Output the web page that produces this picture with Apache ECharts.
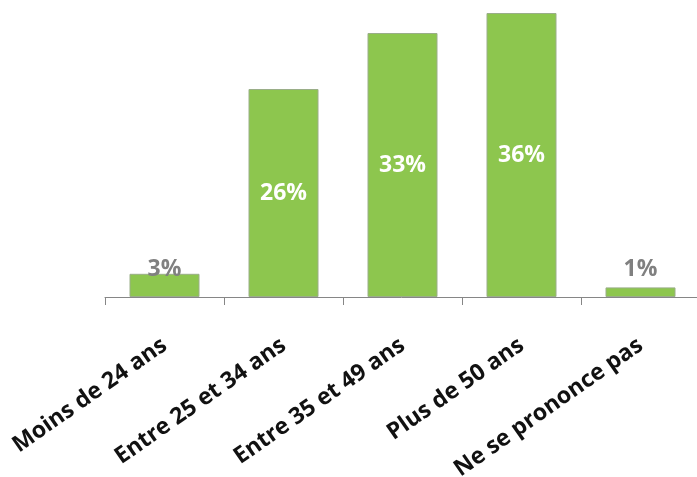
<!DOCTYPE html>
<html>
<head>
<meta charset="utf-8">
<script src="https://cdn.jsdelivr.net/npm/echarts@6/dist/echarts.min.js"></script>
<style>
  html, body { margin: 0; padding: 0; background: #fff; }
  #chart { width: 697px; height: 477px; }
</style>
</head>
<body>
<div id="chart"></div>
<script>
var categories = ['Moins de 24 ans', 'Entre 25 et 34 ans', 'Entre 35 et 49 ans', 'Plus de 50 ans', 'Ne se prononce pas'];
var values = [2.9, 26, 33, 35.5, 1.2];
var labels = ['3%', '26%', '33%', '36%', '1%'];
var smallBars = [true, false, false, false, true];

var myChart = echarts.init(document.getElementById('chart'));

var seriesData = values.map(function (v, i) {
  var item = { value: v };
  if (smallBars[i]) {
    item.label = {
      position: 'top',
      distance: i === 0 ? -7 : 6,
      color: '#808080'
    };
  }
  return item;
});

var option = {
  animation: false,
  grid: { left: 105, top: 9, width: 595, height: 288, outerBoundsMode: 'none', containLabel: false },
  xAxis: {
    type: 'category',
    data: categories,
    axisLine: { lineStyle: { color: '#868686', width: 1 } },
    axisTick: { show: true, length: 8, lineStyle: { color: '#868686' } },
    axisLabel: {
      rotate: 35,
      margin: 46,
      interval: 0,
      color: '#111',
      fontFamily: 'Open Sans',
      fontWeight: 'bold',
      fontSize: 23
    }
  },
  yAxis: {
    type: 'value',
    min: 0,
    max: 36,
    show: false
  },
  series: [
    {
      type: 'bar',
      barWidth: 70,
      data: seriesData,
      itemStyle: { color: '#8DC64E', borderColor: '#9aae88', borderWidth: 1 },
      label: {
        show: true,
        position: 'inside',
        color: '#fff',
        fontFamily: 'Open Sans',
        fontWeight: 'bold',
        fontSize: 23,
        formatter: function (p) { return labels[p.dataIndex]; }
      }
    }
  ]
};

myChart.setOption(option);
window.addEventListener('resize', () => { myChart.resize() })
</script>
</body>
</html>
